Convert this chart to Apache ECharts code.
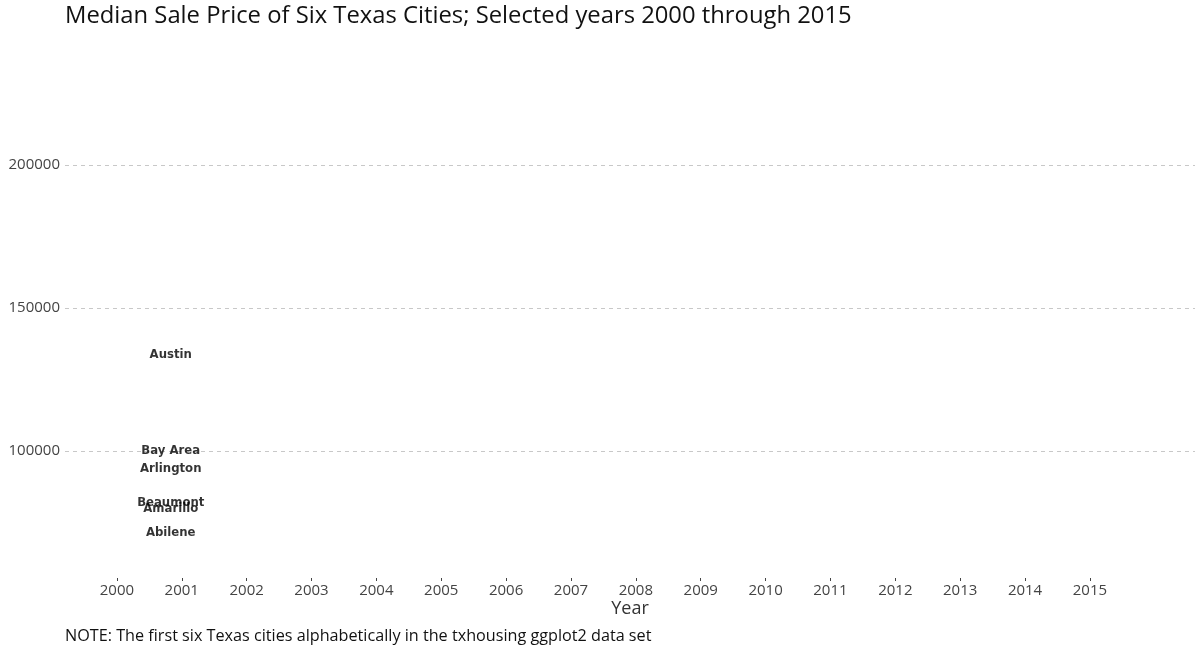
<!DOCTYPE html>
<html>
<head>
<meta charset="utf-8">
<script src="https://cdn.jsdelivr.net/npm/echarts@6/dist/echarts.min.js"></script>
<style>
    html, body { margin: 0; padding: 0; background: #fff; }
    #chart { width: 1200px; height: 650px; }
</style>
</head>
<body>
<div id="chart"></div>
<script>
/**
 * DATA
 */
var cities = ['Abilene', 'Amarillo', 'Arlington', 'Austin', 'Bay Area', 'Beaumont'];
var medianPrices = [71300, 79700, 93700, 133600, 100300, 81800];
var frameYear = 2000.83;   // current animation frame position on the year axis
var years = [2000, 2001, 2002, 2003, 2004, 2005, 2006, 2007,
             2008, 2009, 2010, 2011, 2012, 2013, 2014, 2015];

/**
 * CODE
 */
var chart = echarts.init(document.getElementById('chart'));

var points = cities.map(function (c, i) {
    return {name: c, value: [frameYear, medianPrices[i]]};
});

var font = 'Open Sans';

chart.setOption({
    animation: false,
    title: [
        {
            text: 'Median Sale Price of Six Texas Cities; Selected years 2000 through 2015',
            left: 60,
            top: -1,
            textStyle: {fontFamily: font, fontSize: 23.8, fontWeight: 'normal', color: '#111'}
        },
        {
            text: 'NOTE: The first six Texas cities alphabetically in the txhousing ggplot2 data set',
            left: 60,
            top: 623,
            textStyle: {fontFamily: font, fontSize: 16.2, fontWeight: 'normal', color: '#111'}
        }
    ],
    grid: {left: 65, right: 5, top: 22, bottom: 56},
    xAxis: {
        type: 'value',
        min: 1999.2,
        max: 2016.62,
        offset: -16,
        name: 'Year',
        nameLocation: 'middle',
        nameGap: 22,
        nameMoveOverlap: false,
        nameTextStyle: {fontFamily: font, fontSize: 18, color: '#333'},
        axisLine: {show: false},
        axisTick: {show: true, inside: false, length: 3, customValues: years,
            lineStyle: {color: '#444'}},
        axisLabel: {customValues: years, margin: 5, fontFamily: font, fontSize: 15, color: '#444',
            formatter: function (v) { return String(v); }},
        splitLine: {show: false}
    },
    yAxis: {
        type: 'value',
        min: 50000,
        max: 250000,
        interval: 50000,
        axisLine: {show: false},
        axisTick: {show: false},
        axisLabel: {showMinLabel: false, showMaxLabel: false, margin: 5,
            fontFamily: font, fontSize: 15, color: '#444',
            formatter: function (v) { return String(v); }},
        splitLine: {show: true, showMinLine: false, showMaxLine: false,
            lineStyle: {color: '#c8c8c8', type: [4, 4], width: 1}}
    },
    series: [{
        type: 'scatter',
        data: points,
        symbolSize: 1,
        itemStyle: {color: 'transparent'},
        label: {
            show: true,
            position: 'inside',
            formatter: '{b}',
            fontFamily: 'DejaVu Sans Condensed',
            fontWeight: 'bold',
            fontSize: 13,
            color: '#000'
        },
        labelLayout: {hideOverlap: false}
    }]
});
</script>
</body>
</html>
